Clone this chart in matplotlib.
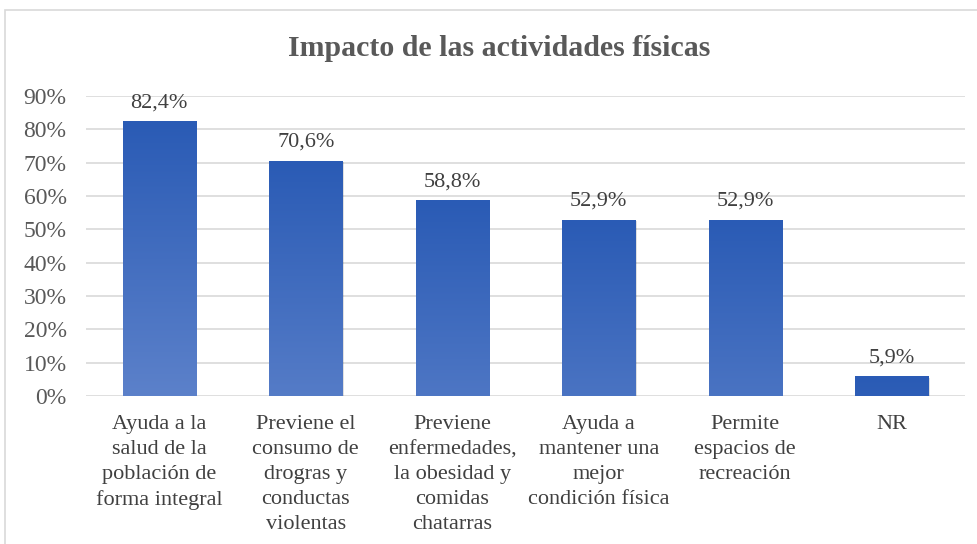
import matplotlib
matplotlib.use("Agg")
import matplotlib.pyplot as plt
import matplotlib.patches as mpatches
import matplotlib.transforms as mtransforms
import numpy as np
from matplotlib.colors import LinearSegmentedColormap, to_rgb

categories = [
    "Ayuda a la\nsalud de la\npoblación de\nforma integral",
    "Previene el\nconsumo de\ndrogras y\nconductas\nviolentas",
    "Previene\nenfermedades,\nla obesidad y\ncomidas\nchatarras",
    "Ayuda a\nmantener una\nmejor\ncondición física",
    "Permite\nespacios de\nrecreación",
    "NR",
]
values = [82.4, 70.6, 58.8, 52.9, 52.9, 5.9]
value_labels = ["82,4%", "70,6%", "58,8%", "52,9%", "52,9%", "5,9%"]
yticks = [0, 10, 20, 30, 40, 50, 60, 70, 80, 90]
ytick_labels = ["0%", "10%", "20%", "30%", "40%", "50%", "60%", "70%", "80%", "90%"]
title = "Impacto de las actividades físicas"

plt.rcParams['font.family'] = ['Liberation Serif', 'DejaVu Serif']

W, H = 978, 544
fig = plt.figure(figsize=(W / 100, H / 100), dpi=100)
fig.patch.set_facecolor("white")

# chart border
border = mpatches.Rectangle((5 / W, -0.05), 1.2, 1 - 10 / H + 0.05, transform=fig.transFigure,
                            fill=False, edgecolor="#D9D9D9", linewidth=1.2)
fig.patches.append(border)

ax = fig.add_axes([86 / W, 1 - 396 / H, (965 - 86) / W, (396 - 96) / H])
ax.set_xlim(-0.5, len(values) - 0.5)
ax.set_ylim(0, 90)
for s in ax.spines.values():
    s.set_visible(False)
ax.set_yticks(yticks)
ax.set_yticklabels(ytick_labels)
ax.set_xticks(range(len(categories)))
ax.set_xticklabels(categories, linespacing=1.42, va="top")
ax.tick_params(axis="y", length=0, pad=14, labelsize=17, labelcolor="#595959")
ax.tick_params(axis="x", length=0, pad=14, labelsize=16, labelcolor="#404040")
ax.yaxis.grid(True, color="#D9D9D9", linewidth=1.2)
ax.set_axisbelow(True)

top_c = np.array(to_rgb("#2A5BB5"))
bot_c = np.array(to_rgb("#5C81CA"))
vmax = max(values)
width = 0.5
bars = ax.bar(range(len(values)), values, width=width, color="none", edgecolor="none", zorder=3)
for i, (b, v) in enumerate(zip(bars, values)):
    # shadow
    shadow_tr = ax.transData + mtransforms.ScaledTranslation(1.5 / 100, -1.5 / 100, fig.dpi_scale_trans)
    sh = mpatches.Rectangle((b.get_x(), 0), width, v, transform=shadow_tr,
                            facecolor="#000000", alpha=0.12, edgecolor="none", zorder=2)
    ax.add_patch(sh)
    frac = v / vmax
    bc = top_c + (bot_c - top_c) * frac
    cmap = LinearSegmentedColormap.from_list("g%d" % i, [bc, top_c])
    grad = np.linspace(0, 1, 256).reshape(-1, 1)
    im = ax.imshow(grad, cmap=cmap, aspect="auto", origin="lower",
                   extent=[b.get_x(), b.get_x() + width, 0, v], zorder=3, interpolation="bilinear")
    im.set_clip_path(b)
    ax.text(i, v + 2.6, value_labels[i], ha="center", va="bottom", fontsize=16, color="#404040", zorder=4)

ax.set_xlim(-0.5, len(values) - 0.5)
ax.set_ylim(0, 90)

fig.text(499 / W, 1 - 49 / H, title, ha="center", va="center", fontsize=21.5, fontweight="bold", color="#595959")

fig.savefig("out.png", dpi=100, facecolor="white")
